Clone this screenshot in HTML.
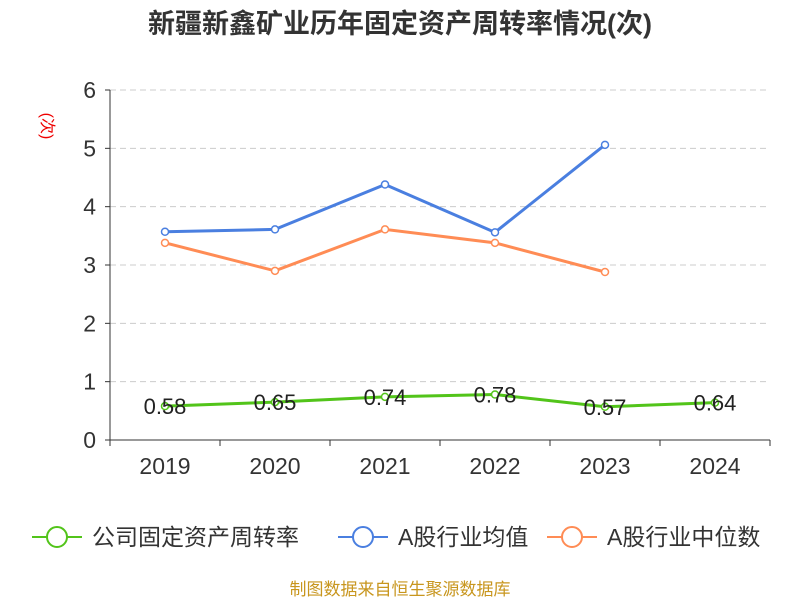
<!DOCTYPE html>
<html><head><meta charset="utf-8"><style>
body{margin:0;background:#fff;font-family:"Liberation Sans","Noto Sans CJK SC",sans-serif}
</style></head><body>
<svg id="c" width="800" height="600" xmlns="http://www.w3.org/2000/svg" style="font-family:'Liberation Sans','Noto Sans CJK SC',sans-serif">
<text x="400" y="33" text-anchor="middle" font-size="27" font-weight="bold" fill="#333">新疆新鑫矿业历年固定资产周转率情况(次)</text>
<text transform="translate(42,126) rotate(90)" text-anchor="middle" font-size="16" fill="#e00">(次)</text>
<g id="grid"></g><g id="axes"></g><g id="series"></g>
<g id="legend" font-size="23" fill="#333"></g>
<text x="400" y="595" text-anchor="middle" font-size="17" fill="#c8961e">制图数据来自恒生聚源数据库</text>
</svg>
<script>
const categories=["2019","2020","2021","2022","2023","2024"];
const companyVals=[0.58,0.65,0.74,0.78,0.57,0.64];
const avgVals=[3.57,3.61,4.38,3.56,5.06];
const medianVals=[3.38,2.90,3.61,3.38,2.88];
const yTicks=[0,1,2,3,4,5,6];
const NS="http://www.w3.org/2000/svg";
const x0=110,x1=770,yBase=440,yTop=90,yMax=6;
const band=(x1-x0)/categories.length;
const X=i=>x0+band*(i+0.5);
const Y=v=>yBase-(v/yMax)*(yBase-yTop);
function mk(t,a,p){const e=document.createElementNS(NS,t);for(const k in a)e.setAttribute(k,a[k]);p.appendChild(e);return e;}
const grid=document.getElementById('grid'),axes=document.getElementById('axes'),ser=document.getElementById('series'),leg=document.getElementById('legend');
yTicks.forEach(t=>{
 if(t>0){const g=mk('line',{x1:x0,x2:x1,y1:Y(t),y2:Y(t),stroke:'#ccc','stroke-dasharray':'6,4'},grid);
 
 }
 const l=mk('text',{x:x0-14,y:Y(t)+8,'text-anchor':'end','font-size':23,fill:'#333'},axes);l.textContent=t;
 
 
 mk('line',{x1:x0-5,x2:x0,y1:Y(t),y2:Y(t),stroke:'#333'},axes);
});
mk('line',{x1:x0,x2:x0,y1:yTop,y2:yBase,stroke:'#333'},axes);
mk('line',{x1:x0,x2:x1,y1:yBase,y2:yBase,stroke:'#333'},axes);
for(let i=0;i<=categories.length;i++)mk('line',{x1:x0+band*i,x2:x0+band*i,y1:yBase,y2:yBase+6,stroke:'#333'},axes);
categories.forEach((c,i)=>{const t=mk('text',{x:X(i),y:474,'text-anchor':'middle','font-size':23,fill:'#333'},axes);t.textContent=c;
 
 });
function series(vals,color,name,labels){
 const pl=mk('polyline',{points:vals.map((v,i)=>X(i)+','+Y(v)).join(' '),fill:'none',stroke:color,'stroke-width':3},ser);
 
 
 vals.forEach((v,i)=>{const c=mk('circle',{cx:X(i),cy:Y(v),r:3.5,fill:'#fff',stroke:color,'stroke-width':1.5},ser);
  
  
  if(labels){const t=mk('text',{x:X(i),y:Y(v)+8,'text-anchor':'middle','font-size':22,fill:'#222'},ser);t.textContent=v.toFixed(2);
   
   }
 });
}
series(avgVals,'#4a7fe0','industry-average',false);
series(medianVals,'#ff8c55','industry-median',false);
series(companyVals,'#52c41a','company',true);
[["公司固定资产周转率",'#52c41a',32],["A股行业均值",'#4a7fe0',338],["A股行业中位数",'#ff8c55',547]].forEach(([n,c,x])=>{
 const g=mk('g',{},leg);
 
 
 mk('line',{x1:x,x2:x+50,y1:537,y2:537,stroke:c,'stroke-width':2},g);
 mk('circle',{cx:x+25,cy:537,r:10,fill:'#fff',stroke:c,'stroke-width':2},g);
 const t=mk('text',{x:x+60,y:545},g);t.textContent=n;
});
</script>
</body></html>
